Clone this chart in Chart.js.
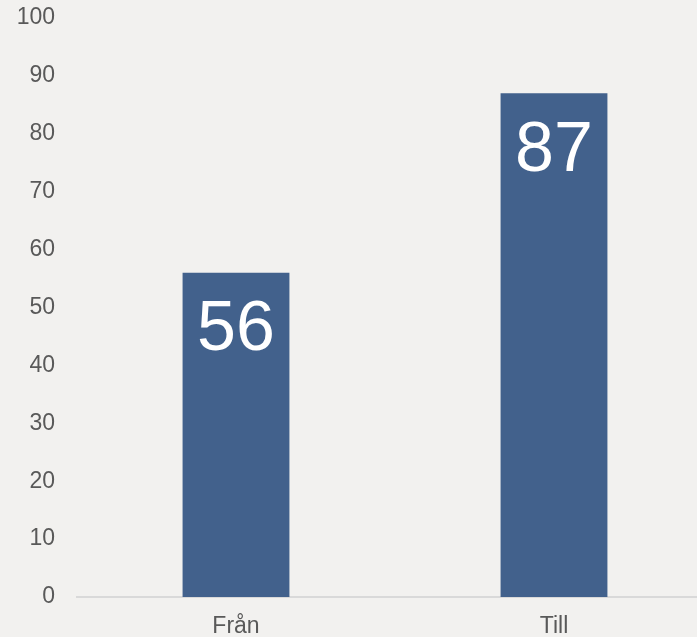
<!DOCTYPE html>
<html>
<head>
<meta charset="utf-8">
<script src="https://cdn.jsdelivr.net/npm/chart.js@4.4.0/dist/chart.umd.min.js"></script>
<style>
  html, body { margin: 0; padding: 0; overflow: hidden; background: #f2f1ef; }
  #chart { display: block; }
</style>
</head>
<body>
<canvas id="chart" width="713" height="637"></canvas>
<script>
// chart data
const categories = ["Från", "Till"];
const values = [56, 87];
const yTicks = [0, 10, 20, 30, 40, 50, 60, 70, 80, 90, 100];

const barColor = "#42618c";
const textColor = "#595959";
const fontFamily = "'Liberation Sans', Arial, sans-serif";

// draw the value inside the top of each bar
const valueLabels = {
  id: "valueLabels",
  afterDatasetsDraw(chart) {
    const ctx = chart.ctx;
    const meta = chart.getDatasetMeta(0);
    ctx.save();
    ctx.fillStyle = "#ffffff";
    ctx.font = "70px " + fontFamily;
    ctx.textAlign = "center";
    ctx.textBaseline = "top";
    meta.data.forEach(function (bar, i) {
      ctx.fillText(String(values[i]), bar.x, bar.y + 23);
    });
    ctx.restore();
  }
};

const ctx = document.getElementById("chart").getContext("2d");
new Chart(ctx, {
  type: "bar",
  data: {
    labels: categories,
    datasets: [{
      data: values,
      backgroundColor: barColor,
      borderWidth: 0,
      barPercentage: 0.336,
      categoryPercentage: 1
    }]
  },
  options: {
    responsive: false,
    animation: false,
    layout: { padding: { top: 18, left: 0, right: 0, bottom: 0 } },
    plugins: {
      legend: { display: false },
      tooltip: { enabled: false }
    },
    scales: {
      x: {
        grid: { display: false, drawTicks: false },
        border: { display: true, color: "#d9d9d9", width: 2 },
        ticks: {
          color: textColor,
          padding: 16,
          font: { family: fontFamily, size: 23 }
        },
        afterFit(scale) { scale.height = 40; }
      },
      y: {
        min: 0,
        max: 100,
        afterBuildTicks(scale) {
          scale.ticks = yTicks.map(function (v) { return { value: v }; });
        },
        grid: { display: false, drawTicks: false },
        border: { display: false },
        ticks: {
          color: textColor,
          padding: 22,
          font: { family: fontFamily, size: 23 }
        },
        afterFit(scale) {
          scale.width = 77;
          scale.paddingTop = 0;
          scale.paddingBottom = 0;
        }
      }
    }
  },
  plugins: [valueLabels]
});
</script>
</body>
</html>
